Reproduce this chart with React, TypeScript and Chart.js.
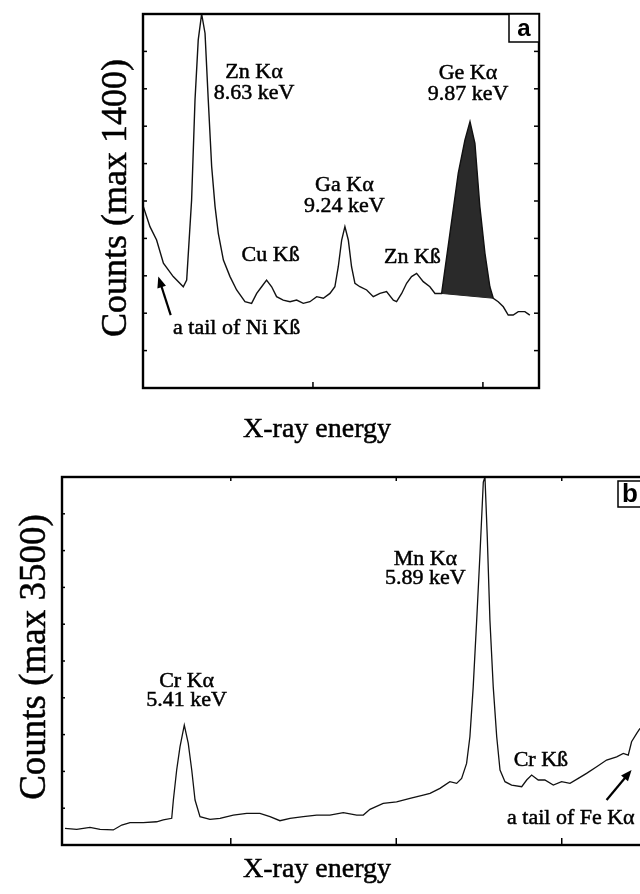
import React, { useEffect, useRef } from "react";
import { Chart, registerables } from "chart.js";

Chart.register(...registerables);

// ---------------- Panel (a) data: channel vs counts (max 1400) ----------------
const channelsA = [
  0.2, 4.1, 8.0, 12.0, 17.8, 23.7, 25.7, 28.6, 30.6, 32.5,
  34.5, 36.5, 38.4, 40.4, 42.4, 44.3, 47.3, 51.2, 55.1, 60.0,
  63.9, 66.9, 69.8, 72.7, 75.7, 78.6, 82.5, 86.5, 90.4, 94.3,
  98.2, 102.2, 106.1, 110.0, 112.9, 114.9, 116.9, 118.8, 120.8, 122.7,
  124.7, 127.6, 131.6, 135.5, 139.4, 143.3, 147.3, 149.2, 152.2, 155.1,
  158.0, 161.0, 164.9, 168.8, 171.8, 175.7, 180.6, 185.5, 189.4, 192.4,
  195.3, 198.2, 201.2, 204.1, 206.1, 209.0, 212.0, 214.9, 217.8, 220.8,
  224.7, 227.6,
];
const countsA = [
  679, 604, 554, 467, 417, 379, 404, 704, 1078, 1303,
  1400, 1328, 1078, 829, 679, 579, 479, 417, 367, 323,
  317, 354, 379, 404, 379, 342, 329, 323, 329, 317,
  323, 342, 336, 354, 379, 454, 554, 604, 554, 454,
  392, 379, 367, 342, 354, 361, 329, 323, 354, 392,
  417, 429, 398, 379, 354, 354, 579, 804, 928, 997,
  916, 679, 504, 379, 336, 323, 304, 273, 273, 286,
  286, 273,
];
const xRangeA = [0, 233];
const yMaxA = 1400;
const xStepA = 100;
const yStepA = 140;
const geFillRange = [175.7, 206.1]; // shaded Ge Kα peak (channels)

// ---------------- Panel (b) data: channel vs counts (max 3500) ----------------
const channelsB = [
  -0.2, 6.9, 14.9, 21.0, 29.0, 34.1, 39.1, 47.1, 55.2, 59.2,
  64.3, 65.3, 67.3, 69.3, 71.9, 74.3, 76.4, 78.4, 81.4, 87.4,
  93.5, 101.5, 109.6, 117.6, 123.7, 129.7, 135.8, 143.8, 151.9, 159.9,
  168.0, 176.1, 180.1, 184.1, 192.1, 200.2, 208.3, 216.3, 220.4, 226.4,
  232.4, 236.5, 239.5, 242.5, 244.5, 246.5, 248.6, 250.6, 252.6, 253.6,
  255.0, 256.6, 258.6, 260.7, 262.7, 265.7, 269.7, 275.8, 278.8, 281.8,
  285.8, 289.8, 294.9, 299.9, 305.0, 310.0, 315.0, 321.1, 327.1, 333.2,
  337.2, 340.2, 342.2, 345.3, 347.3,
];
const countsB = [
  158, 149, 168, 149, 143, 190, 212, 212, 221, 238,
  254, 428, 713, 934, 1140, 966, 713, 428, 269, 244,
  254, 285, 301, 301, 269, 231, 254, 269, 285, 285,
  307, 285, 285, 339, 396, 411, 444, 475, 491, 539,
  602, 586, 634, 776, 1029, 1504, 2138, 2772, 3452, 3500,
  2930, 2138, 1504, 1029, 713, 602, 570, 554, 618, 665,
  618, 618, 570, 602, 586, 634, 681, 744, 808, 839,
  871, 855, 982, 1061, 1109,
];
const xRangeB = [-2, 348.5];
const yMaxB = 3500;
const xStepB = 100;
const yStepB = 350;

// ---------------- Annotations (text in data coordinates) ----------------
const labelsA = [
  { lines: ["Zn Kα", "8.63 keV"], x: 65.3, y: 1183 },
  { lines: ["Ga Kα", "9.24 keV"], x: 118.5, y: 760 },
  { lines: ["Ge Kα", "9.87 keV"], x: 191.2, y: 1179 },
  { lines: ["Cu Kß"], x: 75.1, y: 498 },
  { lines: ["Zn Kß"], x: 158.5, y: 491 },
  { lines: ["a tail of Ni Kß"], x: 55.1, y: 225 },
];
const arrowsA = [{ from: [16.3, 273], to: [9.0, 417] }];

const labelsB = [
  { lines: ["Cr Kα", "5.41 keV"], x: 73.3, y: 1560 },
  { lines: ["Mn Kα", "5.89 keV"], x: 217.6, y: 2720 },
  { lines: ["Cr Kß"], x: 287.4, y: 808 },
  { lines: ["a tail of Fe Kα"], x: 305.5, y: 257 },
];
const arrowsB = [{ from: [327.1, 428], to: [342.2, 713] }];

const SERIF = '"Liberation Serif", "Times New Roman", serif';
const SANS = '"Liberation Sans", Arial, sans-serif';

const decorPlugin = {
  id: "decor",
  afterDraw(chart: any, _args: any, o: any) {
    const { ctx, chartArea: a } = chart;
    const xs = chart.scales.x;
    const ys = chart.scales.y;
    ctx.save();
    ctx.strokeStyle = "#000";
    ctx.fillStyle = "#000";

    const seg = (x1: number, y1: number, x2: number, y2: number) => {
      ctx.beginPath();
      ctx.moveTo(x1, y1);
      ctx.lineTo(x2, y2);
      ctx.stroke();
    };
    const text = (s: string, x: number, y: number) => {
      ctx.fillText(s, x, y);
      ctx.lineWidth = 0.5;
      ctx.strokeText(s, x, y);
    };

    // inward tick marks from the library's scale ticks
    ctx.lineWidth = 1.5;
    const edge = 6;
    xs.ticks.forEach((t: any) => {
      const px = xs.getPixelForValue(t.value);
      if (px - a.left < edge || a.right - px < edge) return;
      if (o.ticks.bottom) seg(px, a.bottom, px, a.bottom - o.ticks.bottom);
      if (o.ticks.top) seg(px, a.top, px, a.top + o.ticks.top);
    });
    ys.ticks.forEach((t: any) => {
      const py = ys.getPixelForValue(t.value);
      if (py - a.top < edge || a.bottom - py < edge) return;
      if (o.ticks.left) seg(a.left, py, a.left + o.ticks.left, py);
      if (o.ticks.right) seg(a.right, py, a.right - o.ticks.right, py);
    });

    // frame
    ctx.lineWidth = o.frameWidth;
    ctx.strokeRect(a.left, a.top, a.right - a.left, a.bottom - a.top);

    // panel letter box
    const bx = a.right - o.box.w;
    const by = a.top + o.box.dy;
    ctx.lineWidth = 1.5;
    ctx.fillStyle = "#fff";
    ctx.fillRect(bx, by, o.box.w, o.box.h);
    ctx.strokeRect(bx, by, o.box.w, o.box.h);
    ctx.fillStyle = "#000";
    ctx.font = `bold ${o.box.size}px ${SANS}`;
    ctx.textAlign = "center";
    ctx.textBaseline = "middle";
    ctx.fillText(o.letter, bx + o.box.w / 2, by + o.box.h / 2 + 1);

    // peak labels
    ctx.font = `${o.fontSize}px ${SERIF}`;
    o.labels.forEach((l: any) => {
      const px = xs.getPixelForValue(l.x);
      const py = ys.getPixelForValue(l.y);
      l.lines.forEach((s: string, i: number) => text(s, px, py + i * o.lineGap));
    });

    // arrows
    o.arrows.forEach((ar: any) => {
      const x1 = xs.getPixelForValue(ar.from[0]);
      const y1 = ys.getPixelForValue(ar.from[1]);
      const x2 = xs.getPixelForValue(ar.to[0]);
      const y2 = ys.getPixelForValue(ar.to[1]);
      const ang = Math.atan2(y2 - y1, x2 - x1);
      const hl = 11;
      const hw = 4.5;
      ctx.lineWidth = 2.2;
      seg(x1, y1, x2 - Math.cos(ang) * hl * 0.8, y2 - Math.sin(ang) * hl * 0.8);
      ctx.beginPath();
      ctx.moveTo(x2, y2);
      ctx.lineTo(x2 - Math.cos(ang) * hl + Math.sin(ang) * hw, y2 - Math.sin(ang) * hl - Math.cos(ang) * hw);
      ctx.lineTo(x2 - Math.cos(ang) * hl - Math.sin(ang) * hw, y2 - Math.sin(ang) * hl + Math.cos(ang) * hw);
      ctx.closePath();
      ctx.fill();
    });

    // axis titles
    ctx.font = `${o.titleSize}px ${SERIF}`;
    text(o.xTitle, o.xTitlePos[0], o.xTitlePos[1]);
    ctx.save();
    ctx.font = `${o.yTitleSize}px ${SERIF}`;
    ctx.translate(o.yTitlePos[0], o.yTitlePos[1]);
    ctx.rotate(-Math.PI / 2);
    text(o.yTitle, 0, 0);
    ctx.restore();

    ctx.restore();
  },
};

const hiddenScale = (min: number, max: number, step: number) => ({
  type: "linear" as const,
  min,
  max,
  ticks: { display: false, stepSize: step, includeBounds: false },
  grid: { display: false, drawTicks: false },
  border: { display: false },
  afterFit: (s: any) => {
    if (s.isHorizontal()) s.height = 0;
    else s.width = 0;
  },
});

function makeConfigA(): any {
  const spectrum = channelsA.map((c, i) => ({ x: c, y: countsA[i] }));
  const gePeak = spectrum.filter((p) => p.x >= geFillRange[0] && p.x <= geFillRange[1]);
  const geBase = [gePeak[0], gePeak[gePeak.length - 1]];
  return {
    type: "line",
    data: {
      datasets: [
        { data: spectrum, borderColor: "#111", borderWidth: 1.4, pointRadius: 0, tension: 0, fill: false },
        { data: gePeak, borderWidth: 0, pointRadius: 0, tension: 0, backgroundColor: "#2a2a2a", fill: "+1" },
        { data: geBase, borderColor: "#222", borderWidth: 1, pointRadius: 0, tension: 0, fill: false },
      ],
    },
    options: {
      animation: false,
      responsive: false,
      devicePixelRatio: 1,
      layout: { padding: { left: 143, top: 14, right: 101, bottom: 72 } },
      scales: { x: hiddenScale(xRangeA[0], xRangeA[1], xStepA), y: hiddenScale(0, yMaxA, yStepA) },
      plugins: {
        legend: { display: false },
        tooltip: { enabled: false },
        decor: {
          ticks: { left: 4, right: 5, top: 0, bottom: 6 },
          frameWidth: 2.4,
          letter: "a",
          box: { w: 30, h: 28, dy: 0, size: 24 },
          labels: labelsA,
          arrows: arrowsA,
          fontSize: 22,
          lineGap: 21,
          titleSize: 28,
          xTitle: "X-ray energy",
          xTitlePos: [317, 430],
          yTitle: "Counts (max 1400)",
          yTitleSize: 36,
          yTitlePos: [117, 198],
        },
      },
    },
    plugins: [decorPlugin],
  };
}

function makeConfigB(): any {
  const spectrum = channelsB.map((c, i) => ({ x: c, y: countsB[i] }));
  return {
    type: "line",
    data: {
      datasets: [
        { data: spectrum, borderColor: "#111", borderWidth: 1.3, pointRadius: 0, tension: 0, fill: false },
      ],
    },
    options: {
      animation: false,
      responsive: false,
      devicePixelRatio: 1,
      layout: { padding: { left: 62, top: 17, right: 18, bottom: 49 } },
      scales: { x: hiddenScale(xRangeB[0], xRangeB[1], xStepB), y: hiddenScale(0, yMaxB, yStepB) },
      plugins: {
        legend: { display: false },
        tooltip: { enabled: false },
        decor: {
          ticks: { left: 3, right: 0, top: 4, bottom: 7 },
          frameWidth: 2.4,
          letter: "b",
          box: { w: 24, h: 26, dy: 4, size: 26 },
          labels: labelsB,
          arrows: arrowsB,
          fontSize: 22,
          lineGap: 19,
          titleSize: 28,
          xTitle: "X-ray energy",
          xTitlePos: [317, 410],
          yTitle: "Counts (max 3500)",
          yTitleSize: 37,
          yTitlePos: [35, 197],
        },
      },
    },
    plugins: [decorPlugin],
  };
}

function Panel({ makeConfig, top, width, height }: { makeConfig: () => any; top: number; width: number; height: number }) {
  const ref = useRef<HTMLCanvasElement>(null);
  useEffect(() => {
    const chart = new Chart(ref.current as HTMLCanvasElement, makeConfig());
    return () => chart.destroy();
  }, [makeConfig]);
  return (
    <canvas
      ref={ref}
      width={width}
      height={height}
      style={{ position: "absolute", left: 0, top, width, height, display: "block" }}
    />
  );
}

export default function App() {
  return (
    <div
      style={{
        position: "fixed",
        left: 0,
        top: 0,
        width: 640,
        height: 894,
        overflow: "hidden",
        background: "#fff",
      }}
    >
      <Panel makeConfig={makeConfigA} top={0} width={640} height={460} />
      <Panel makeConfig={makeConfigB} top={460} width={660} height={434} />
    </div>
  );
}
